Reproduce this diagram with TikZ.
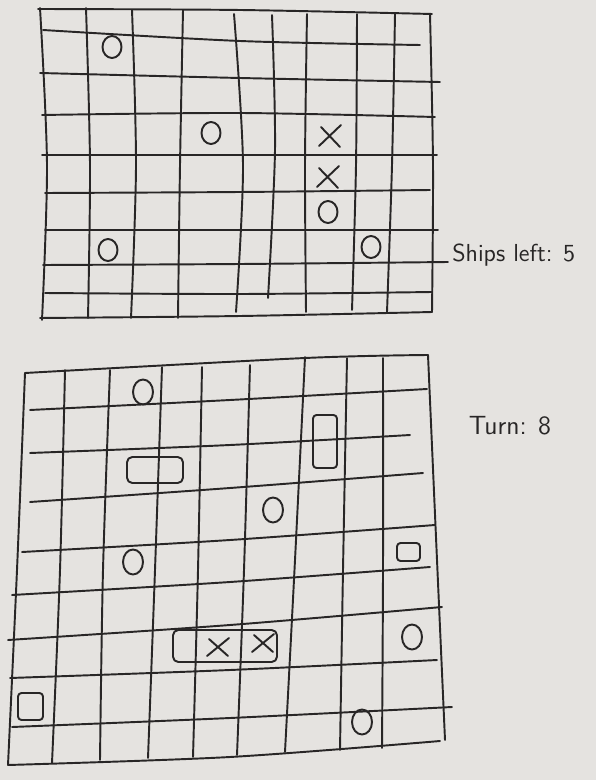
\documentclass[tikz,border=0pt]{standalone}
\definecolor{papel}{RGB}{229,227,224}
\definecolor{lapiz}{RGB}{40,38,38}
\begin{document}
\begin{tikzpicture}[x=0.02cm,y=-0.02cm,
  trazo/.style={line width=1.1pt,color=lapiz,line cap=round,line join=round},
  texto/.style={font=\sffamily\fontsize{14}{16}\selectfont,text=lapiz,inner sep=0pt}]
% Fondo del papel
\fill[papel] (0,0) rectangle (596,780);
% Tablero de arriba: lineas horizontales y verticales a mano
\foreach \xa/\ya/\xb/\yb/\xc/\yc in {38/9/240/10/432/14, 43/30/240/41/420/45, 40/73/240/78/440/82,
  42/115/240/113/435/117, 42/155/240/155/437/155, 45/193/240/192/430/190, 45/230/240/230/438/230,
  43/265/240/264/448/262, 45/293/240/294/432/292, 40/318/240/316/432/312}
  \draw[trazo] plot[smooth] coordinates {(\xa,\ya) (\xb,\yb) (\xc,\yc)};
\foreach \xa/\ya/\xb/\yb/\xc/\yc in {40/8/47/165/42/320, 86/8/90/165/88/318, 132/10/136/165/131/318,
  183/10/180/165/178/318, 234/14/243/165/236/312, 272/15/275/150/268/298, 307/14/305/165/306/312,
  357/14/356/165/352/310, 395/14/392/165/387/312, 430/14/433/165/432/312}
  \draw[trazo] plot[smooth] coordinates {(\xa,\ya) (\xb,\yb) (\xc,\yc)};
% Marcas del tablero de arriba
\foreach \x/\y in {112/47, 211/133, 328/212, 108/250, 371/247}
  \draw[trazo] (\x,\y) ellipse [x radius=0.19cm, y radius=0.22cm];
\foreach \x/\y in {330/136, 328/177}
  \draw[trazo] (\x-11,\y+10) -- (\x+11,\y-11) (\x-9,\y-9) -- (\x+10,\y+11);
\node[texto,anchor=west] (ships) at (452,255) {Ships left: 5};
% Tablero de abajo
\foreach \xa/\ya/\xb/\yb/\xc/\yc in {25/373/305/358/428/355, 30/410/230/400/427/389, 30/453/230/445/410/435,
  30/502/230/488/423/473, 22/552/230/540/435/525, 12/595/230/582/430/567, 8/640/230/625/442/607,
  10/678/230/670/437/660, 12/727/230/718/452/707, 8/765/230/757/440/741}
  \draw[trazo] plot[smooth] coordinates {(\xa,\ya) (\xb,\yb) (\xc,\yc)};
\foreach \xa/\ya/\xb/\yb/\xc/\yc in {25/373/17/570/8/765, 65/370/60/570/52/763, 110/370/103/570/100/760,
  162/367/155/570/148/758, 202/367/198/570/193/757, 250/365/244/570/237/755, 305/357/295/560/285/752,
  347/358/343/570/340/750, 383/358/383/570/382/748, 428/355/437/560/445/740}
  \draw[trazo] plot[smooth] coordinates {(\xa,\ya) (\xb,\yb) (\xc,\yc)};
% Marcas del tablero de abajo
\foreach \x/\y in {143/392, 273/510, 133/562, 412/637, 362/722}
  \draw[trazo] (\x,\y) ellipse [x radius=0.2cm, y radius=0.25cm];
\draw[trazo,rounded corners=3pt] (127,457) rectangle (183,483);
\draw[trazo,rounded corners=2pt] (313,415) rectangle (337,468);
\draw[trazo,rounded corners=2pt] (397,543) rectangle (420,561);
\draw[trazo,rounded corners=2pt] (18,693) rectangle (43,720);
\draw[trazo,rounded corners=3pt] (173,630) rectangle (277,662);
\foreach \x/\y in {218/647, 263/643}
  \draw[trazo] (\x-11,\y+9) -- (\x+11,\y-9) (\x-9,\y-8) -- (\x+10,\y+9);
\node[texto,font=\sffamily\fontsize{15}{17}\selectfont] (turn) at (510,426) {Turn: 8};
\end{tikzpicture}
\end{document}
